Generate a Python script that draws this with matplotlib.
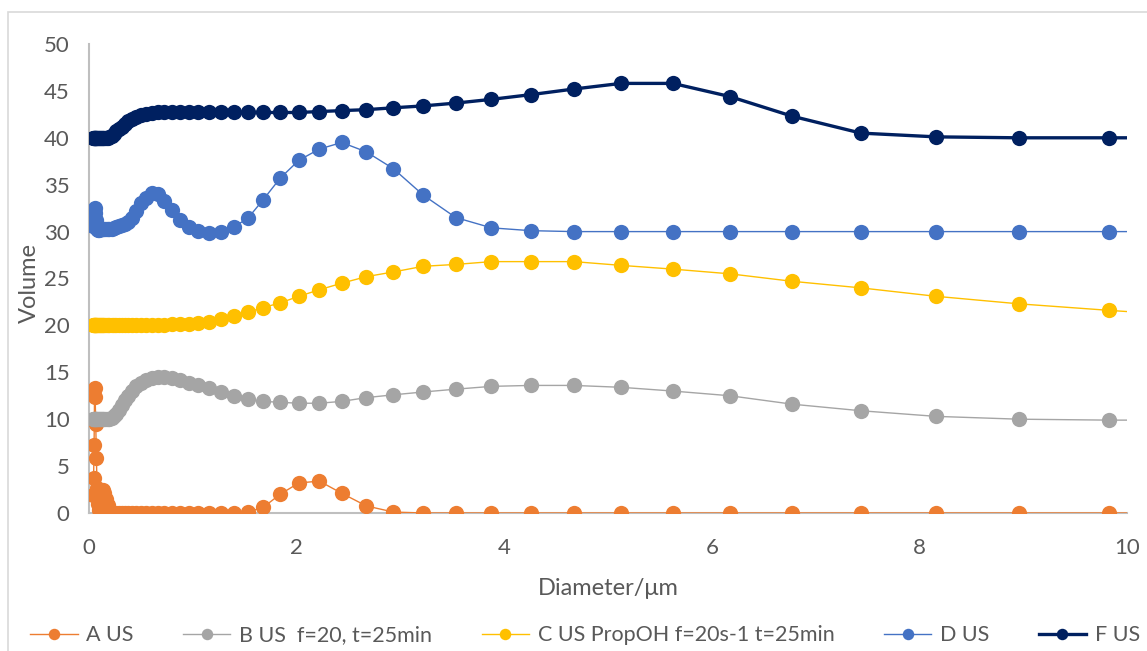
import matplotlib
matplotlib.use("Agg")
import matplotlib.pyplot as plt
from matplotlib.patches import Rectangle

plt.rcParams['font.family'] = ['Lato', 'DejaVu Sans']

# diametros (um), ultimo punto fuera del eje
diameter = [0.040, 0.044, 0.049, 0.054, 0.059, 0.065, 0.071, 0.078, 0.085, 0.094,
            0.103, 0.113, 0.124, 0.136, 0.149, 0.164, 0.180, 0.197, 0.217, 0.238,
            0.261, 0.286, 0.314, 0.345, 0.379, 0.416, 0.456, 0.501, 0.549, 0.603,
            0.662, 0.726, 0.797, 0.875, 0.960, 1.054, 1.157, 1.269, 1.393, 1.529,
            1.678, 1.842, 2.021, 2.219, 2.435, 2.672, 2.933, 3.219, 3.533, 3.877,
            4.255, 4.670, 5.125, 5.625, 6.173, 6.775, 7.436, 8.161, 8.957, 9.830,
            10.79]

vol_a = [1.9, 3.7, 7.3, 13.3, 12.4, 9.5, 5.9, 2.7, 1.0, 0.3,
         0.5, 1.3, 2.1, 2.4, 2.1, 1.5, 0.8, 0.2, 0.0, 0.0,
         0.0, 0.0, 0.0, 0.0, 0.0, 0.0, 0.0, 0.0, 0.0, 0.0,
         0.0, 0.0, 0.0, 0.0, 0.0, 0.0, 0.0, 0.0, 0.0, 0.1,
         0.6, 2.0, 3.2, 3.4, 2.1, 0.75, 0.1, 0.0, 0.0, 0.0,
         0.0, 0.0, 0.0, 0.0, 0.0, 0.0, 0.0, 0.0, 0.0, 0.0,
         0.0]

vol_b = [10.0, 10.0, 10.0, 10.0, 10.0, 10.0, 10.0, 10.0, 10.0, 10.0,
         10.0, 10.0, 10.0, 10.0, 10.0, 10.0, 10.0, 10.0, 10.1, 10.3,
         10.6, 11.0, 11.5, 12.0, 12.5, 13.0, 13.5, 13.9, 14.2, 14.4,
         14.5, 14.5, 14.4, 14.2, 13.9, 13.6, 13.3, 12.9, 12.5, 12.1,
         11.9, 11.8, 11.7, 11.7, 11.9, 12.3, 12.6, 12.9, 13.2, 13.5,
         13.6, 13.6, 13.4, 13.0, 12.5, 11.6, 10.9, 10.3, 10.0, 9.9,
         9.9]

vol_c = [20.0, 20.0, 20.0, 20.0, 20.0, 20.0, 20.0, 20.0, 20.0, 20.0,
         20.0, 20.0, 20.0, 20.0, 20.0, 20.0, 20.0, 20.0, 20.0, 20.0,
         20.0, 20.0, 20.0, 20.0, 20.0, 20.0, 20.0, 20.0, 20.0, 20.0,
         20.0, 20.05, 20.1, 20.1, 20.2, 20.3, 20.4, 20.7, 21.0, 21.4,
         21.9, 22.4, 23.1, 23.8, 24.5, 25.2, 25.7, 26.3, 26.5, 26.8,
         26.8, 26.8, 26.4, 26.0, 25.5, 24.7, 24.0, 23.1, 22.3, 21.6,
         20.9]

vol_d = [30.6, 31.4, 32.2, 32.5, 32.0, 31.2, 30.6, 30.3, 30.2, 30.2,
         30.3, 30.3, 30.3, 30.3, 30.3, 30.3, 30.3, 30.3, 30.3, 30.4,
         30.5, 30.6, 30.7, 30.8, 31.0, 31.5, 32.2, 33.0, 33.6, 34.1,
         34.0, 33.3, 32.3, 31.2, 30.5, 30.1, 29.9, 30.0, 30.5, 31.4,
         33.4, 35.7, 37.6, 38.8, 39.5, 38.5, 36.7, 33.9, 31.5, 30.4,
         30.1, 30.0, 30.0, 30.0, 30.0, 30.0, 30.0, 30.0, 30.0, 30.0,
         30.0]

vol_f = [40.0, 40.0, 40.0, 40.0, 40.0, 40.0, 40.0, 40.0, 40.0, 40.0,
         40.0, 40.0, 40.0, 40.0, 40.0, 40.0, 40.0, 40.1, 40.2, 40.4,
         40.7, 40.9, 41.2, 41.5, 41.8, 42.0, 42.2, 42.4, 42.5, 42.6,
         42.7, 42.7, 42.7, 42.7, 42.7, 42.7, 42.7, 42.7, 42.7, 42.7,
         42.7, 42.7, 42.7, 42.8, 42.9, 43.0, 43.2, 43.4, 43.7, 44.1,
         44.6, 45.2, 45.8, 45.8, 44.4, 42.3, 40.5, 40.1, 40.0, 40.0,
         40.0]

labels = ["A US", "B US  f=20, t=25min", "C US PropOH f=20s-1 t=25min", "D US", "F US"]
colors = ["#ED7D31", "#A5A5A5", "#FFC000", "#4472C4", "#002060"]
series = [vol_a, vol_b, vol_c, vol_d, vol_f]

fig = plt.figure(figsize=(11.47, 6.51), dpi=100)
ax = fig.add_axes([0.0776, 0.212, 0.905, 0.7204])

# borde gris del grafico
fig.patches.append(Rectangle((8 / 1147, -0.01), 1.02, 1 - 12 / 651 + 0.01,
                             transform=fig.transFigure, fill=False,
                             edgecolor="#D9D9D9", linewidth=1.2))

for vals, lab, col in zip(series, labels, colors):
    lw = 2.4 if lab == "F US" else 1.0
    ax.plot(diameter, vals, color=col, linewidth=lw, marker="o",
            markersize=11, markeredgewidth=0, label=lab)

ax.set_xlim(0, 10)
ax.set_ylim(0, 50)
ax.set_xticks(range(0, 11, 2))
ax.set_yticks(range(0, 51, 5))
ax.tick_params(length=0, labelsize=16, labelcolor="#595959")
ax.tick_params(axis="x", pad=18)
ax.tick_params(axis="y", pad=14)
for s in ["top", "right"]:
    ax.spines[s].set_visible(False)
for s in ["left", "bottom"]:
    ax.spines[s].set_color("#BFBFBF")
    ax.spines[s].set_linewidth(1.5)
    ax.spines[s].set_zorder(0)

ax.set_xlabel("Diameter/μm", fontsize=17, color="#595959")
ax.set_ylabel("Volume", fontsize=17, color="#595959")
ax.xaxis.set_label_coords(0.5, -0.139)
ax.yaxis.set_label_coords(-0.047, 0.49)

fig.legend(loc="center", bbox_to_anchor=(0.51, 0.024), ncol=5, frameon=False,
           fontsize=15.5, labelcolor="#595959", handlelength=2.2,
           columnspacing=2.3, handletextpad=0.4, markerscale=0.75)

plt.savefig("out.png", dpi=100)
